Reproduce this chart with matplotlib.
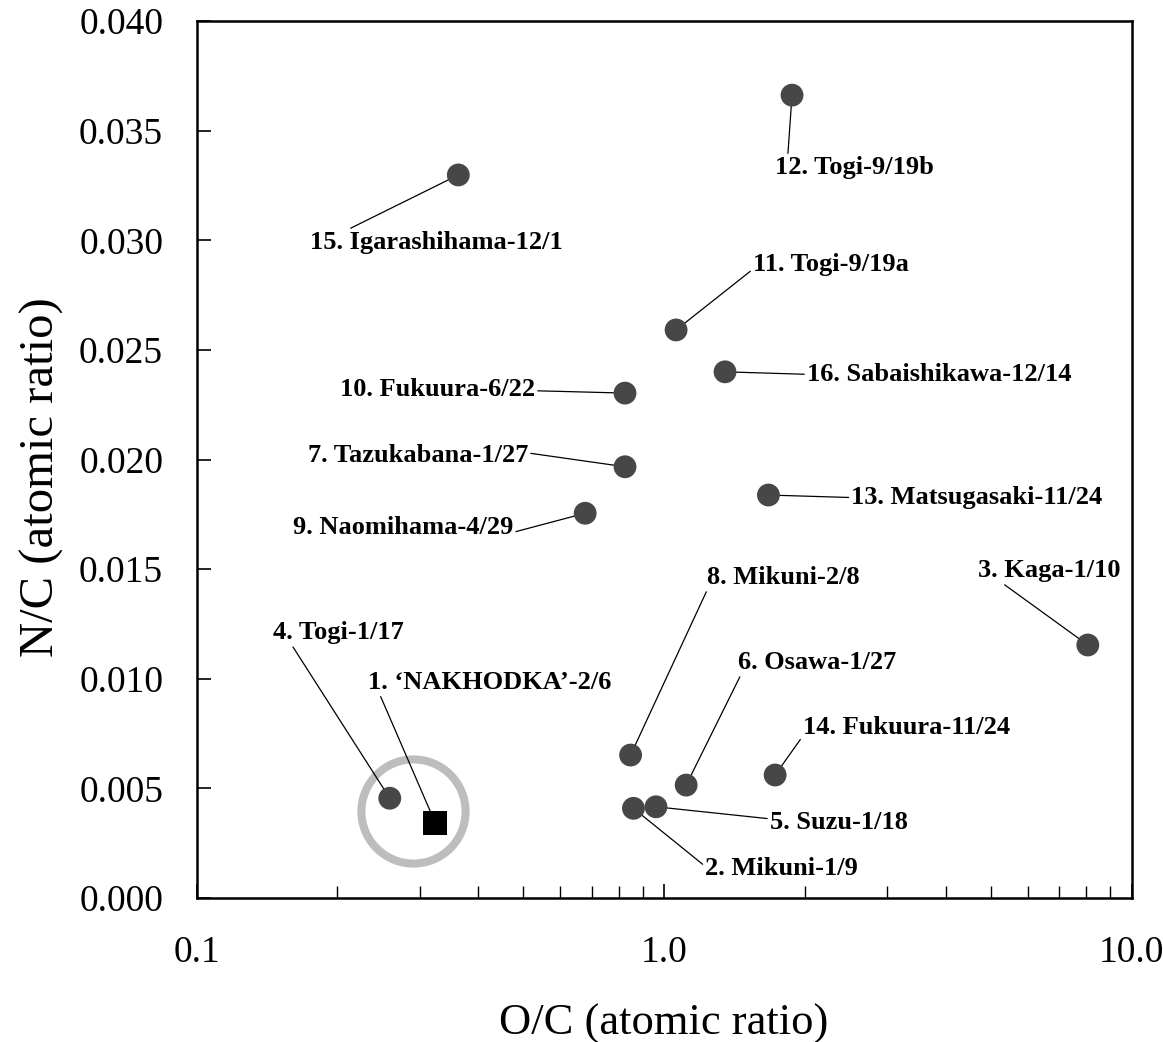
import matplotlib
matplotlib.use("Agg")
import matplotlib.pyplot as plt
import numpy as np

# ---- data ----
labels = [
    "1. \u2018NAKHODKA\u2019-2/6", "2. Mikuni-1/9", "3. Kaga-1/10", "4. Togi-1/17",
    "5. Suzu-1/18", "6. Osawa-1/27", "7. Tazukabana-1/27", "8. Mikuni-2/8",
    "9. Naomihama-4/29", "10. Fukuura-6/22", "11. Togi-9/19a", "12. Togi-9/19b",
    "13. Matsugasaki-11/24", "14. Fukuura-11/24", "15. Igarashihama-12/1",
    "16. Sabaishikawa-12/14",
]
oc = [0.324, 0.860, 8.06, 0.259, 0.961, 1.115, 0.825, 0.848,
      0.678, 0.825, 1.061, 1.878, 1.672, 1.728, 0.363, 1.350]
nc = [0.00343, 0.00409, 0.01154, 0.00455, 0.00416, 0.00515, 0.01967, 0.00652,
      0.01755, 0.02303, 0.02591, 0.03662, 0.01838, 0.00561, 0.03298, 0.02400]
x_ticks = [0.1, 1.0, 10.0]
x_ticklabels = ["0.1", "1.0", "10.0"]
y_ticks = [0.000, 0.005, 0.010, 0.015, 0.020, 0.025, 0.030, 0.035, 0.040]

# ---- label placement (offset pixels from point, alignment, leader attach) ----
label_offsets = [(-67, 134), (72, -67), (-110, 68), (-117, 159), (114, -22),
                 (52, 116), (-97, 5), (76, 171), (-72, -21), (-90, -3),
                 (77, 59), (-17, -79), (83, -9), (28, 41), (-148, -74), (82, -9)]
label_ha = ["left", "left", "left", "left", "left", "left", "right", "left",
            "right", "right", "left", "left", "left", "left", "left", "left"]
label_relpos = [(0.04, 0.15), (0, 0.6), (0.15, 0.05), (0.13, 0.1), (0, 0.65),
                (0.03, 0.15), (1, 0.6), (0.01, 0.05), (1, 0.3), (1, 0.45),
                (0, 0.3), (0.08, 1.0), (0, 0.5), (0, 0.15), (0.11, 0.85), (0, 0.5)]

serif = ["Liberation Serif", "DejaVu Serif"]
plt.rcParams["font.family"] = serif

fig = plt.figure(figsize=(11.63, 10.42), dpi=100)
ax = fig.add_axes([0.169, 0.1382, 0.804, 0.8416])
ax.set_xscale("log")
ax.set_xlim(0.1, 10.0)
ax.set_ylim(0.0, 0.040)

# highlight ring around samples 1 and 4
cx = np.sqrt(oc[0] * oc[3])
cy = (nc[0] + nc[3]) / 2
ax.plot([cx], [cy], marker="o", markersize=75, markerfacecolor="none",
        markeredgecolor="#bdbdbd", markeredgewidth=5.8, linestyle="none", zorder=1)

# points
ax.scatter(oc[1:], nc[1:], s=270, color="#474747", edgecolors="none", zorder=3)
ax.scatter([oc[0]], [nc[0]], s=290, marker="s", color="black", edgecolors="none", zorder=3)

for i, lab in enumerate(labels):
    ax.annotate(lab, xy=(oc[i], nc[i]), xytext=label_offsets[i],
                textcoords="offset pixels", ha=label_ha[i], va="baseline",
                fontsize=19, fontweight="bold", family=serif, zorder=2,
                arrowprops=dict(arrowstyle="-", color="black", lw=0.9,
                                relpos=label_relpos[i], shrinkA=0, shrinkB=0))

ax.set_xticks(x_ticks)
ax.set_xticklabels(x_ticklabels)
ax.set_yticks(y_ticks)
ax.set_yticklabels([f"{v:.3f}" for v in y_ticks])
ax.xaxis.set_minor_locator(matplotlib.ticker.LogLocator(base=10, subs=np.arange(2, 10)))
ax.xaxis.set_minor_formatter(matplotlib.ticker.NullFormatter())

ax.tick_params(axis="both", which="major", direction="in", length=10, width=1.2,
               labelsize=27, colors="black")
ax.tick_params(axis="x", which="major", pad=27)
ax.tick_params(axis="y", which="major", pad=24)
ax.tick_params(axis="x", which="minor", direction="in", length=9, width=1.0)
for sp in ax.spines.values():
    sp.set_linewidth(1.8)

ax.set_xlabel("O/C (atomic ratio)", fontsize=32)
ax.set_ylabel("N/C (atomic ratio)", fontsize=35)
ax.xaxis.set_label_coords(0.5, -0.12)
ax.yaxis.set_label_coords(-0.142, 0.48)

fig.savefig("out.png", dpi=100)
